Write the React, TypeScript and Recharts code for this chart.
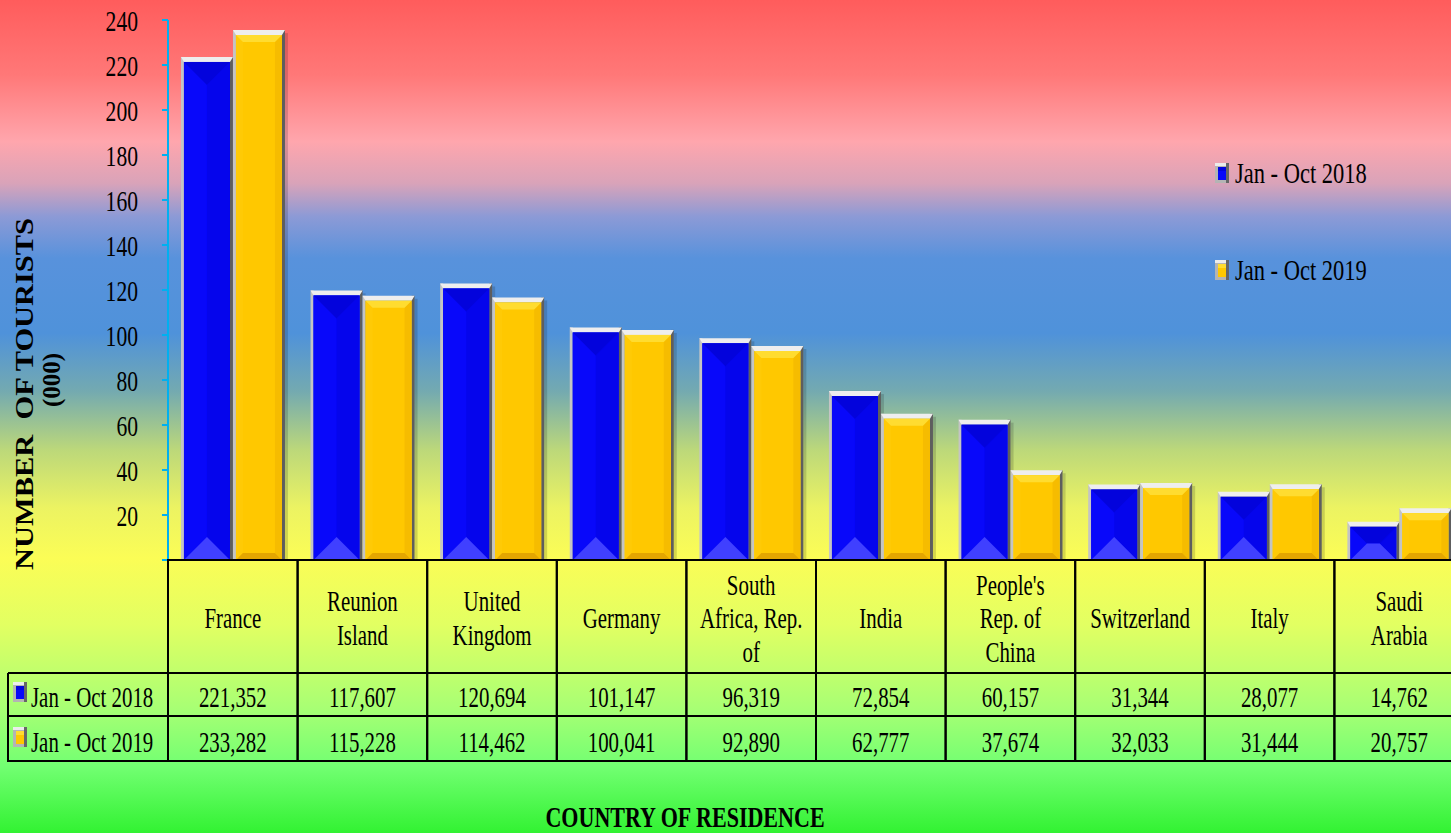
import React from "react"
import { BarChart, Bar, XAxis, YAxis, Legend } from "recharts"

// tourists by country of residence, Jan - Oct
const countries = [
  "France", "Reunion Island", "United Kingdom", "Germany", "South Africa, Rep. of",
  "India", "People's Rep. of China", "Switzerland", "Italy", "Saudi Arabia",
]
const headerLines = [
  ["France"], ["Reunion", "Island"], ["United", "Kingdom"], ["Germany"],
  ["South", "Africa, Rep.", "of"], ["India"], ["People's", "Rep. of", "China"],
  ["Switzerland"], ["Italy"], ["Saudi", "Arabia"],
]
const tourists2018 = [221352, 117607, 120694, 101147, 96319, 72854, 60157, 31344, 28077, 14762]
const tourists2019 = [233282, 115228, 114462, 100041, 92890, 62777, 37674, 32033, 31444, 20757]
const seriesNames = ["Jan - Oct 2018", "Jan - Oct 2019"]
const yTicks = [0, 20, 40, 60, 80, 100, 120, 140, 160, 180, 200, 220, 240]

const W = 1464
const H = 833
const LEFT = 168
const TABLE_TOP = 560
const ROW1 = 673
const ROW2 = 716
const TABLE_BOTTOM = 761
const COL_W = (W - LEFT) / countries.length
const SERIF = "'Liberation Serif', 'Times New Roman', serif"
const SX = 0.72

const BLUE = { main: "#0808fa", top: "#0303dc", bottom: "#4040ff", left: "#0808fa", right: "#0505ec" }
const GOLD = { main: "#ffc800", top: "#ffdc30", bottom: "#e4a600", left: "#ffca06", right: "#f6bc00" }

const chartData = countries.map((name, i) => ({
  name,
  y2018: tourists2018[i] / 1000,
  y2019: tourists2019[i] / 1000,
}))

const fmt = (v: number) => v.toLocaleString("en-US")

function CText({ x, y, children, size = 29, anchor = "middle", weight = "normal", sx = SX }: any) {
  return (
    <text
      transform={`translate(${x},${y}) scale(${sx},1)`}
      textAnchor={anchor}
      fontFamily={SERIF}
      fontSize={size}
      fontWeight={weight}
      fill="#000"
    >
      {children}
    </text>
  )
}

function BevelBar(props: any) {
  const { x, y, width, height, tone, depth } = props
  if (!width || height == null) return null
  const f = 3
  const ft = 5
  const ix = x + f
  const iw = width - 2 * f
  const ih = height
  const d = Math.max(0, Math.min(depth, ih / 2, iw / 2))
  const pts = (a: number[][]) => a.map((p) => p.join(",")).join(" ")
  return (
    <g>
      <rect x={x + width} y={y - ft + 3} width={3} height={ih + ft - 3} fill="#000" opacity={0.15} />
      <rect x={x} y={y - ft} width={f} height={ih + ft} fill="#c4c4c4" />
      <rect x={x + width - f} y={y - ft} width={f} height={ih + ft} fill="#5e5e5e" />
      <polygon points={pts([[x, y - ft], [x + width, y - ft], [x + width - f, y], [x + f, y]])} fill="#eeeeee" />
      <rect x={ix} y={y} width={iw} height={ih} fill={tone.main} />
      <polygon points={pts([[ix, y], [ix + d, y + d], [ix + d, y + ih - d], [ix, y + ih]])} fill={tone.left} />
      <polygon points={pts([[ix + iw, y], [ix + iw - d, y + d], [ix + iw - d, y + ih - d], [ix + iw, y + ih]])} fill={tone.right} />
      <polygon points={pts([[ix, y], [ix + iw, y], [ix + iw - d, y + d], [ix + d, y + d]])} fill={tone.top} />
      <polygon points={pts([[ix, y + ih], [ix + iw, y + ih], [ix + iw - d, y + ih - d], [ix + d, y + ih - d]])} fill={tone.bottom} />
    </g>
  )
}

function Marker({ x, y, tone }: any) {
  return (
    <g>
      <rect x={x} y={y} width={14} height={20} fill="#b4b4b4" />
      <rect x={x} y={y} width={14} height={3} fill="#ececec" />
      <rect x={x + 11} y={y} width={3} height={20} fill="#666666" />
      <rect x={x + 3} y={y + 4} width={8} height={13} fill={tone.main} />
      <rect x={x + 3} y={y + 4} width={8} height={4} fill={tone.top} />
    </g>
  )
}

function YTick(props: any) {
  const { y, payload } = props
  if (payload.value === 0) return <g />
  return <CText x={138} y={y + 11} size={30} anchor="end">{payload.value}</CText>
}

function TableTick(props: any) {
  const { x, payload } = props
  const i = payload.index
  const l = x - COL_W / 2
  const r = x + COL_W / 2
  const lines = headerLines[i]
  const lh = 33.5
  const mid = 628 - ((lines.length - 1) * lh) / 2
  return (
    <g>
      {lines.map((t, k) => (
        <CText key={k} x={x} y={mid + k * lh}>{t}</CText>
      ))}
      <CText x={x} y={707}>{fmt(tourists2018[i])}</CText>
      <CText x={x} y={752}>{fmt(tourists2019[i])}</CText>
      {i === 0 && (
        <g>
          <Marker x={13} y={682} tone={BLUE} />
          <Marker x={13} y={727} tone={GOLD} />
          <CText x={31} y={707} anchor="start">{seriesNames[0]}</CText>
          <CText x={31} y={752} anchor="start">{seriesNames[1]}</CText>
          <g stroke="#000" strokeWidth={2}>
            <line x1={8} y1={ROW1} x2={l} y2={ROW1} />
            <line x1={8} y1={ROW2} x2={l} y2={ROW2} />
            <line x1={8} y1={TABLE_BOTTOM} x2={l} y2={TABLE_BOTTOM} />
            <line x1={8} y1={ROW1} x2={8} y2={TABLE_BOTTOM + 1} />
          </g>
        </g>
      )}
      <g stroke="#000" strokeWidth={2}>
        <line x1={l} y1={TABLE_TOP} x2={r} y2={TABLE_TOP} />
        <line x1={l} y1={ROW1} x2={r} y2={ROW1} />
        <line x1={l} y1={ROW2} x2={r} y2={ROW2} />
        <line x1={l} y1={TABLE_BOTTOM} x2={r} y2={TABLE_BOTTOM} />
        <line x1={l} y1={TABLE_TOP - 1} x2={l} y2={TABLE_BOTTOM + 1} />
        <line x1={r} y1={TABLE_TOP - 1} x2={r} y2={TABLE_BOTTOM + 1} />
      </g>
    </g>
  )
}

function LegendBox() {
  return (
    <svg width={180} height={140}>
      <Marker x={2} y={8} tone={BLUE} />
      <CText x={22} y={28} anchor="start" size={30} sx={0.75}>{seriesNames[0]}</CText>
      <Marker x={2} y={105} tone={GOLD} />
      <CText x={22} y={125} anchor="start" size={30} sx={0.75}>{seriesNames[1]}</CText>
    </svg>
  )
}

const bg =
  "linear-gradient(to bottom, #ff5c5c 0%, #ff7878 9%, #ffa6ad 17%, #d9a3b9 22%, #8c9ad6 26%, #5892dc 31%, #4f92da 40%, #74aab0 47%, #bcd87a 54%, #ecf362 61%, #fbfd56 67%, #e2ff62 75%, #a8ff74 85%, #72ff72 92%, #32f232 100%)"

export default function App() {
  return (
    <div style={{ position: "absolute", left: 0, top: 0, width: 1451, height: H, overflow: "hidden", background: bg }}>
      <BarChart
        width={W}
        height={H}
        data={chartData}
        margin={{ top: 20, right: 0, left: 0, bottom: 72 }}
        barCategoryGap="10%"
        barGap={0}
      >
        <XAxis
          dataKey="name"
          height={TABLE_BOTTOM - TABLE_TOP}
          axisLine={false}
          tickLine={false}
          interval={0}
          tick={<TableTick />}
          label={{
            content: () => (
              <CText x={685} y={827} size={29} weight="bold" sx={0.76}>COUNTRY OF RESIDENCE</CText>
            ),
          }}
        />
        <YAxis
          width={LEFT}
          domain={[0, 240]}
          ticks={yTicks}
          interval={0}
          axisLine={{ stroke: "#00b0f0", strokeWidth: 2 }}
          tickLine={{ stroke: "#00b0f0", strokeWidth: 2 }}
          tickSize={6}
          tick={<YTick />}
          label={{
            content: () => (
              <g fontFamily={SERIF} fontWeight="bold" fill="#000">
                <text transform="translate(33,394) rotate(-90)" textAnchor="middle" fontSize={25} textLength={352} lengthAdjust="spacingAndGlyphs">
                  NUMBER{"\u00a0\u00a0"}OF TOURISTS
                </text>
                <text transform="translate(60,380) rotate(-90)" textAnchor="middle" fontSize={25}>
                  (000)
                </text>
              </g>
            ),
          }}
        />
        <Legend
          layout="vertical"
          align="center"
          verticalAlign="middle"
          wrapperStyle={{ position: "absolute", left: 1213, top: 155, width: 180, height: 140 }}
          content={() => <LegendBox />}
        />
        <Bar
          dataKey="y2018"
          name={seriesNames[0]}
          isAnimationActive={false}
          fill={BLUE.main}
          shape={(p: any) => <BevelBar {...p} tone={BLUE} depth={24} />}
        />
        <Bar
          dataKey="y2019"
          name={seriesNames[1]}
          isAnimationActive={false}
          fill={GOLD.main}
          shape={(p: any) => <BevelBar {...p} tone={GOLD} depth={7} />}
        />
      </BarChart>
    </div>
  )
}
